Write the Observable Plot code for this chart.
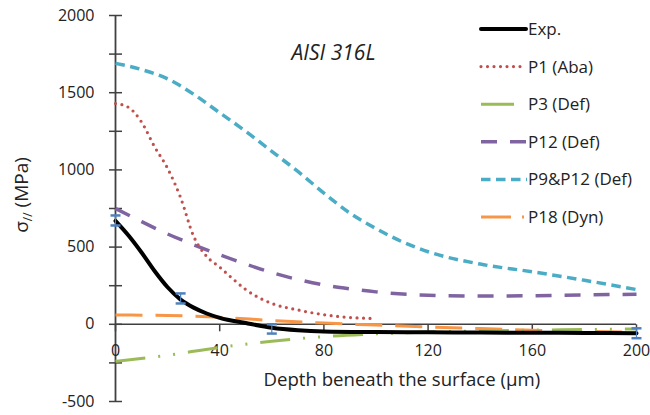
<!DOCTYPE html>
<html><head><meta charset="utf-8">
<script src="https://cdn.jsdelivr.net/npm/d3@7"></script>
<script src="https://cdn.jsdelivr.net/npm/@observablehq/plot@0.6"></script>
<style>
html,body{margin:0;padding:0;background:#fff;}
#wrap{position:relative;width:650px;height:415px;font-family:"Open Sans",sans-serif;}
</style></head><body><div id="wrap"></div>
<script>
// ---- data ----
const seriesNames = ["Exp.", "P1 (Aba)", "P3 (Def)", "P12 (Def)", "P9&P12 (Def)", "P18 (Dyn)"];

const expDepth  = [0, 5, 10, 15, 20, 25, 30, 35, 40, 50, 60, 70, 80, 100, 120, 140, 160, 180, 200];
const expStress = [670, 575, 465, 345, 240, 160, 108, 70, 42, 8, -22, -38, -46, -50, -52, -53, -55, -56, -58];

const p1Depth  = [0, 5, 10, 15, 20, 25, 30, 35, 40, 45, 50, 60, 70, 80, 90, 98];
const p1Stress = [1430, 1405, 1310, 1150, 1010, 820, 570, 440, 370, 295, 225, 135, 93, 62, 44, 38];

const p3Depth  = [0, 20, 40, 60, 80, 100, 120, 140, 160, 180, 200];
const p3Stress = [-240, -200, -150, -110, -80, -62, -50, -44, -38, -34, -30];

const p12Depth  = [0, 10, 20, 30, 40, 50, 60, 70, 80, 90, 100, 120, 140, 160, 180, 200];
const p12Stress = [750, 665, 585, 515, 450, 390, 335, 290, 255, 230, 210, 188, 183, 185, 190, 195];

const p9p12Depth  = [0, 10, 20, 30, 40, 50, 60, 70, 80, 90, 100, 110, 120, 140, 160, 180, 200];
const p9p12Stress = [1690, 1650, 1590, 1490, 1370, 1250, 1120, 990, 850, 720, 620, 535, 470, 390, 340, 285, 225];

const p18Depth  = [0, 20, 40, 60, 80, 100, 120, 140, 160, 180, 200];
const p18Stress = [60, 57, 45, 25, 8, -5, -18, -28, -38, -45, -52];

const errDepth = [0, 25, 60, 200];
const errLow   = [640, 135, -60, -90];
const errHigh  = [705, 200, 0, -26];

const xTicks = [0, 40, 80, 120, 160, 200];
const yLabelTicks = [-500, 0, 500, 1000, 1500, 2000];
const yMinorTicks = [-500, -250, 0, 250, 500, 750, 1000, 1250, 1500, 1750, 2000];

const titleText = "AISI 316L";
const xTitle = "Depth beneath the surface (\u00b5m)";

// ---- styles ----
const colors = ["#000000", "#c0504d", "#9bbb59", "#8064a2", "#4bacc6", "#f79646"];
const widths = [4, 3.2, 3, 3.5, 3.5, 3];
const dashes = [null, "0 6.5", "30 13 2 13 2 13", "16 13", "9.5 5.5", "27 13"];
const caps = ["round", "round", "butt", "butt", "butt", "butt"];
const errColor = "#4f81bd";
const axisColor = "#404040";
const textColor = "#222";

// ---- build tables ----
const depthArrays = [expDepth, p1Depth, p3Depth, p12Depth, p9p12Depth, p18Depth];
const stressArrays = [expStress, p1Stress, p3Stress, p12Stress, p9p12Stress, p18Stress];
const tables = seriesNames.map((name, k) =>
  depthArrays[k].map((d, i) => ({series: name, depth: d, stress: stressArrays[k][i]})));
const errRows = errDepth.map((d, i) => ({depth: d, lo: errLow[i], hi: errHigh[i]}));

const hTick = {draw(ctx) { ctx.moveTo(-6.5, 0); ctx.lineTo(6.5, 0); }};
const vTick = {draw(ctx) { ctx.moveTo(0, 0); ctx.lineTo(0, 7); }};
const capSym = {draw(ctx) { ctx.moveTo(-5, 0); ctx.lineTo(5, 0); }};

const drawOrder = [5, 2, 3, 4, 1, 0];
const lineMarks = drawOrder.map(k => Plot.line(tables[k], {
  x: "depth", y: "stress", curve: "monotone-x",
  stroke: colors[k], strokeWidth: widths[k],
  strokeDasharray: dashes[k] || undefined, strokeLinecap: caps[k], strokeLinejoin: "round"
}));

const chart = Plot.plot({
  width: 650, height: 415,
  marginLeft: 115, marginRight: 14, marginTop: 15, marginBottom: 14,
  style: {fontFamily: "'Open Sans', sans-serif", fontSize: "16px", background: "#fff", overflow: "visible"},
  x: {domain: [0, 200], axis: null},
  y: {domain: [-500, 2000], axis: null},
  marks: [
    Plot.ruleY([0], {stroke: axisColor, strokeWidth: 1.5}),
    Plot.ruleX([0], {stroke: axisColor, strokeWidth: 1.8}),
    Plot.dot(yMinorTicks, {x: () => 0, y: d => d, symbol: hTick, stroke: axisColor, strokeWidth: 1.5, fill: "none"}),
    Plot.dot(xTicks, {x: d => d, y: () => 0, symbol: vTick, stroke: axisColor, strokeWidth: 1.5, fill: "none"}),
    Plot.text(yLabelTicks, {x: () => 0, y: d => d, text: d => String(d), textAnchor: "end", dx: -21, fontSize: 16, fill: textColor}),
    Plot.text(xTicks, {x: d => d, y: () => 0, text: d => String(d), dy: 27, fontSize: 16, fill: textColor}),
    ...lineMarks,
    Plot.ruleX(errRows, {x: "depth", y1: "lo", y2: "hi", stroke: errColor, strokeWidth: 1.2}),
    Plot.dot(errRows, {x: "depth", y: "lo", symbol: capSym, stroke: errColor, strokeWidth: 2.5, fill: "none"}),
    Plot.dot(errRows, {x: "depth", y: "hi", symbol: capSym, stroke: errColor, strokeWidth: 2.5, fill: "none"}),
    Plot.text([titleText], {frameAnchor: "top-left", dx: 176, dy: 30, textAnchor: "start", fontStyle: "italic", fontSize: 21, letterSpacing: 2.3, fill: textColor}),
    Plot.text([xTitle], {frameAnchor: "bottom-left", dx: 148, dy: -16, textAnchor: "start", fontSize: 18.6, fill: textColor})
  ]
});
document.getElementById("wrap").appendChild(chart);

const svg = d3.select(chart);
// y-axis label with subscript
const yl = svg.append("text")
  .attr("transform", "translate(28,195) rotate(-90)")
  .attr("text-anchor", "middle")
  .attr("fill", textColor)
  .attr("font-size", 19)
  .attr("font-family", "'Open Sans', sans-serif");
yl.append("tspan").text("\u03c3");
yl.append("tspan").attr("font-size", 12).attr("dy", 4).text("//");
yl.append("tspan").attr("dy", -4).text(" (MPa)");

// legend
const leg = svg.append("g").attr("font-family", "'Open Sans', sans-serif").attr("font-size", 17).attr("text-anchor", "start");
const legendLen = [45, 42, 33, 46, 46, 45];
seriesNames.forEach((name, k) => {
  const cy = 29 + k * 37.6;
  const g = leg.append("g").attr("transform", `translate(481,${cy})`);
  if (k === 5) {
    g.append("line").attr("x1", 0).attr("x2", 30).attr("y1", 0).attr("y2", 0)
      .attr("stroke", colors[k]).attr("stroke-width", widths[k]);
    g.append("line").attr("x1", 41).attr("x2", 43).attr("y1", 0).attr("y2", 0)
      .attr("stroke", colors[k]).attr("stroke-width", widths[k]);
  } else {
    g.append("line").attr("x1", 0).attr("x2", legendLen[k]).attr("y1", 0).attr("y2", 0)
      .attr("stroke", colors[k]).attr("stroke-width", widths[k])
      .attr("stroke-dasharray", k === 2 ? null : dashes[k])
      .attr("stroke-linecap", caps[k]);
  }
  g.append("text").attr("x", 47).attr("y", 0).attr("dy", "0.35em").attr("text-anchor", "start").attr("fill", textColor).text(name);
});
</script>
</body></html>
